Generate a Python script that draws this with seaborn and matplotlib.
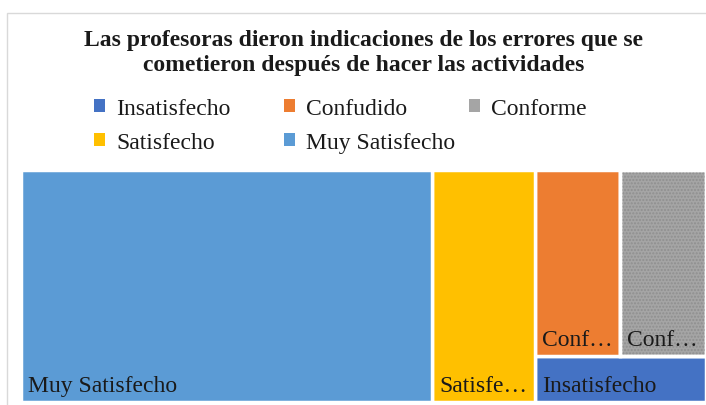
import matplotlib
matplotlib.use('Agg')
import matplotlib.pyplot as plt
import seaborn as sns
from matplotlib.patches import Patch, Rectangle

# data
categories = ['Insatisfecho', 'Confudido', 'Conforme', 'Satisfecho', 'Muy Satisfecho']
values = [1, 2, 2, 3, 12]
box_labels = ['Insatisfecho', 'Conf…', 'Conf…', 'Satisfe…', 'Muy Satisfecho']
colors = ['#4472C4', '#ED7D31', '#A5A5A5', '#FFC000', '#5B9BD5']
title = 'Las profesoras dieron indicaciones de los errores que se\ncometieron después de hacer las actividades'

sns.set_theme(style='white')
plt.rcParams['font.family'] = ['Liberation Serif', 'DejaVu Serif']

W, H = 706, 406
fig = plt.figure(figsize=(W / 100, H / 100), dpi=100)
fig.patch.set_facecolor('white')

# chart frame
fig.add_artist(Rectangle((7 / W, -0.1), 1.0, (H - 14) / H + 0.1, transform=fig.transFigure,
                         facecolor='none', edgecolor='#d9d9d9', linewidth=1))

ax = fig.add_axes([21 / W, 3 / H, 685 / W, 232 / H])
ax_w, ax_h = 685, 232

# treemap layout (Excel style): two big columns, rest split into top pair + bottom strip
total = sum(values)
idx = {c: i for i, c in enumerate(categories)}
rects = {}
x = 0.0
for name in ['Muy Satisfecho', 'Satisfecho']:
    w = values[idx[name]] / total
    rects[name] = (x, 0.0, w, 1.0)
    x += w
rest = ['Confudido', 'Conforme', 'Insatisfecho']
rest_total = sum(values[idx[n]] for n in rest)
rest_w = rest_total / total
h_bottom = values[idx['Insatisfecho']] / rest_total
rects['Insatisfecho'] = (x, 0.0, rest_w, h_bottom)
top_total = values[idx['Confudido']] + values[idx['Conforme']]
xx = x
for name in ['Confudido', 'Conforme']:
    w = rest_w * values[idx[name]] / top_total
    rects[name] = (xx, h_bottom, w, 1.0 - h_bottom)
    xx += w

for i, name in enumerate(categories):
    rx, ry, rw, rh = rects[name]
    ax.bar(rx, rh, width=rw, bottom=ry, align='edge', color=colors[i],
           edgecolor='white', linewidth=2.5)
    if name == 'Conforme':
        ax.bar(rx, rh, width=rw, bottom=ry, align='edge', color='none',
               edgecolor='#8f8f8f', linewidth=0, hatch='.....')
        ax.bar(rx, rh, width=rw, bottom=ry, align='edge', color='none',
               edgecolor='white', linewidth=2.5)
    ax.text(rx + 7 / ax_w, ry + 11 / ax_h, box_labels[i], ha='left', va='baseline',
            fontsize=17, color='#1a1a1a')

ax.set_xlim(0, 1)
ax.set_ylim(0, 1)
ax.axis('off')

fig.text(364 / W, 1 - 53 / H, title, ha='center', va='center', fontsize=17,
         fontweight='bold', color='#1a1a1a', linespacing=1.3)

# legend, row-major order, one legend per column to match spacing
col_x = [94, 284, 469]
columns = [[0, 3], [1, 4], [2]]
for cx, col in zip(col_x, columns):
    handles = [Patch(facecolor=colors[i], edgecolor='none') for i in col]
    leg = fig.legend(handles, [categories[i] for i in col], loc='upper left',
                     bbox_to_anchor=(cx / W, 1 - 99 / H), frameon=False, fontsize=17,
                     handlelength=0.45, handleheight=0.5, handletextpad=0.5,
                     labelspacing=0.55, labelcolor='#1a1a1a', borderpad=0, borderaxespad=0)

fig.savefig('out.png', dpi=100, facecolor='white')
